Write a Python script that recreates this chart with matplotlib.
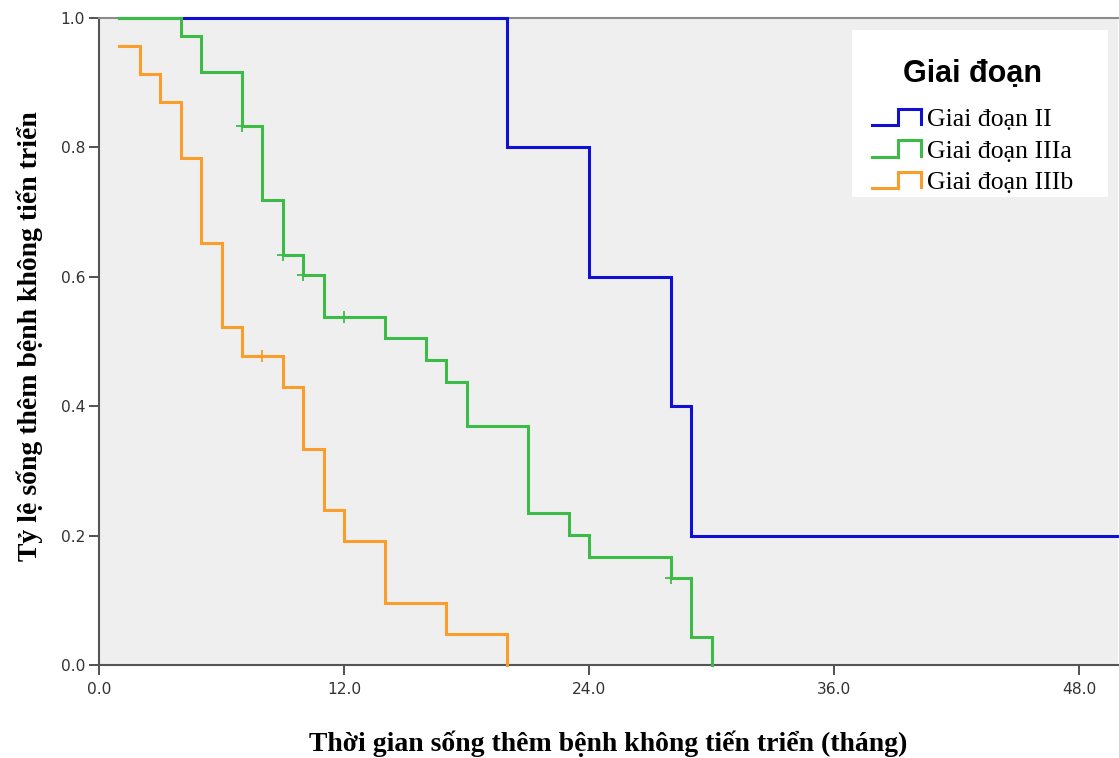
import matplotlib
matplotlib.use("Agg")
import matplotlib.pyplot as plt
from matplotlib.lines import Line2D
from matplotlib.patches import Rectangle
from matplotlib.legend_handler import HandlerBase

# Kaplan-Meier steps (months, survival) for each stage
blue_t = [1, 20, 24, 28, 29, 50]
blue_s = [1.0, 0.8, 0.6, 0.4, 0.2, 0.2]

green_t = [1, 4, 5, 7, 8, 9, 10, 11, 14, 16, 17, 18, 21, 23, 24, 28, 29, 30]
green_s = [1.0, 0.972, 0.917, 0.833, 0.719, 0.634, 0.603, 0.538, 0.505,
           0.471, 0.437, 0.369, 0.235, 0.201, 0.167, 0.134, 0.044, 0.0]

orange_t = [1, 2, 3, 4, 5, 6, 7, 9, 10, 11, 12, 14, 17, 20]
orange_s = [0.957, 0.913, 0.870, 0.783, 0.652, 0.522, 0.478, 0.430, 0.334,
            0.239, 0.191, 0.096, 0.048, 0.0]

# censored cases
green_cens_t = [7, 9, 10, 12, 28]
green_cens_s = [0.833, 0.634, 0.603, 0.538, 0.134]
orange_cens_t = [8]
orange_cens_s = [0.478]

labels = ["Giai đoạn II", "Giai đoạn IIIa", "Giai đoạn IIIb"]
colors = ["#1010d4", "#3dbb47", "#fa9d2a"]
x_ticks = [0, 12, 24, 36, 48]
y_ticks = [0.0, 0.2, 0.4, 0.6, 0.8, 1.0]


class StepHandler(HandlerBase):
    # small step-shaped key, like the survival curves themselves
    def create_artists(self, legend, orig_handle, xdescent, ydescent,
                       width, height, fontsize, trans):
        x0 = -xdescent
        y0 = -ydescent
        xs = [x0, x0 + width * 0.52, x0 + width * 0.52, x0 + width * 0.97, x0 + width * 0.97]
        ys = [y0, y0, y0 + height, y0 + height, y0 + height * 0.05]
        line = Line2D(xs, ys, color=orig_handle.get_color(),
                      linewidth=orig_handle.get_linewidth(),
                      solid_joinstyle='miter', transform=trans)
        return [line]


fig = plt.figure(figsize=(11.19, 7.58), dpi=100)
ax = fig.add_axes([99 / 1119, 1 - 665 / 758, 1019 / 1119, 647 / 758])
ax.set_facecolor("#efefef")

handles = []
for t, s, c, lab in [(blue_t, blue_s, colors[0], labels[0]),
                     (green_t, green_s, colors[1], labels[1]),
                     (orange_t, orange_s, colors[2], labels[2])]:
    h, = ax.step(t, s, where='post', color=c, linewidth=2.2, label=lab,
                 solid_joinstyle='miter', clip_on=False, zorder=3)
    handles.append(h)

ax.plot(green_cens_t, green_cens_s, '+', color=colors[1], markersize=9,
        markeredgewidth=1.3, zorder=4)
ax.plot(orange_cens_t, orange_cens_s, '+', color=colors[2], markersize=9,
        markeredgewidth=1.3, zorder=4)

ax.set_xlim(0, 49.9)
ax.set_ylim(0, 1.0)
ax.set_xticks(x_ticks)
ax.set_xticklabels(["%.1f" % v for v in x_ticks])
ax.set_yticks(y_ticks)
ax.set_yticklabels(["%.1f" % v for v in y_ticks])
ax.tick_params(axis='both', labelsize=11.2, colors="#333333", length=7,
               width=1.2, direction='out')
ax.tick_params(axis='x', pad=5)
ax.tick_params(axis='y', pad=3)

for side in ['left', 'bottom']:
    ax.spines[side].set_color("#555555")
    ax.spines[side].set_linewidth(1.5)
ax.spines['top'].set_color("#8c8c8c")
ax.spines['top'].set_linewidth(1.5)
ax.spines['right'].set_visible(False)

ax.set_xlabel("Thời gian sống thêm bệnh không tiến triển (tháng)",
              fontsize=20, fontweight='bold', family='Liberation Serif',
              labelpad=24.5)
ax.set_ylabel("Tỷ lệ sống thêm bệnh không tiến triển",
              fontsize=20, fontweight='bold', family='Liberation Serif')
ax.yaxis.set_label_coords(-0.055, 0.509)

# white legend panel
ax.add_patch(Rectangle((0.739, 0.723), 0.251, 0.258, transform=ax.transAxes,
                       facecolor='white', edgecolor='none', zorder=5))

leg = ax.legend(handles=handles, labels=labels,
                handler_map={Line2D: StepHandler()},
                loc='upper left', bbox_to_anchor=(0.7586, 0.936),
                borderaxespad=0, borderpad=0, title="Giai đoạn",
                prop={'family': 'Liberation Serif', 'size': 18.5},
                title_fontproperties={'family': 'Liberation Sans',
                                      'weight': 'bold', 'size': 22},
                frameon=False,
                handlelength=1.95, handleheight=0.6, handletextpad=0.2,
                labelspacing=0.36)
leg.set_zorder(6)
leg._legend_box.sep = 14

fig.savefig("out.png", dpi=100)
